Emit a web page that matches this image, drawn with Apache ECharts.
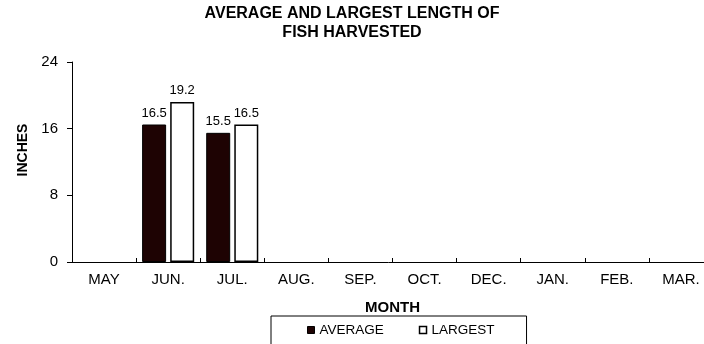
<!DOCTYPE html>
<html>
<head>
<meta charset="utf-8">
<title>Average and Largest Length of Fish Harvested</title>
<script src="https://cdn.jsdelivr.net/npm/echarts@6/dist/echarts.min.js"></script>
<style>
  html, body { margin: 0; padding: 0; background: #fff; }
  #chart { width: 704px; height: 344px; }
</style>
</head>
<body>
<div id="chart"></div>
<script>
// Months of the harvest season
const months = ['MAY', 'JUN.', 'JUL.', 'AUG.', 'SEP.', 'OCT.', 'DEC.', 'JAN.', 'FEB.', 'MAR.'];
// Lengths in inches (null = no fish recorded that month)
const averageLength = [null, 16.5, 15.5, null, null, null, null, null, null, null];
const largestLength = [null, 19.2, 16.5, null, null, null, null, null, null, null];
// Value axis range
const yMin = 0;
const yMax = 24;
const yStep = 8;

const FONT = "'Liberation Sans', Arial, Helvetica, sans-serif";

const chart = echarts.init(document.getElementById('chart'), null, { renderer: 'canvas' });

const barLabel = {
  show: true,
  position: 'top',
  distance: 5,
  color: '#000',
  fontFamily: FONT,
  fontSize: 13
};

chart.setOption({
  animation: false,
  backgroundColor: '#fff',
  title: {
    text: 'AVERAGE AND LARGEST LENGTH OF\nFISH HARVESTED',
    left: 352,
    textAlign: 'center',
    top: 4,
    padding: 0,
    textStyle: {
      fontFamily: FONT,
      fontSize: 16,
      fontWeight: 'bold',
      lineHeight: 19,
      color: '#000'
    }
  },
  legend: {
    left: 271,
    top: 316,
    padding: [7, 32, 20, 36],
    borderColor: '#000',
    borderWidth: 1,
    itemWidth: 7,
    itemHeight: 7,
    itemGap: 35,
    textStyle: { fontFamily: FONT, fontSize: 13.5, color: '#000' },
    data: [
      { name: 'AVERAGE', icon: 'rect', itemStyle: { color: '#1e0303', borderColor: '#000', borderWidth: 1 } },
      { name: 'LARGEST', icon: 'rect', itemStyle: { color: '#fff', borderColor: '#000', borderWidth: 1.5 } }
    ]
  },
  grid: {
    left: 72,
    top: 62,
    width: 641,
    height: 200,
    containLabel: false,
    outerBoundsMode: 'none'
  },
  xAxis: {
    type: 'category',
    data: months,
    name: 'MONTH',
    nameLocation: 'middle',
    nameGap: 38,
    nameTextStyle: { fontFamily: FONT, fontSize: 15, fontWeight: 'bold', color: '#000' },
    axisLine: { show: true, lineStyle: { color: '#000', width: 1 } },
    axisTick: { show: true, inside: true, length: 4, alignWithLabel: false, lineStyle: { color: '#000' } },
    axisLabel: { margin: 10, fontFamily: FONT, fontSize: 15, color: '#000', interval: 0 },
    splitLine: { show: false }
  },
  yAxis: {
    type: 'value',
    min: yMin,
    max: yMax,
    interval: yStep,
    name: 'INCHES',
    nameLocation: 'middle',
    nameGap: 41,
    nameRotate: 90,
    nameTextStyle: {
      fontFamily: FONT,
      fontSize: 14,
      fontWeight: 'bold',
      color: '#000',
      padding: [0, 0, 0, 24]
    },
    axisLine: { show: true, lineStyle: { color: '#000', width: 1 } },
    axisTick: { show: true, inside: false, length: 5, lineStyle: { color: '#000' } },
    axisLabel: { margin: 14, fontFamily: FONT, fontSize: 15, color: '#000' },
    splitLine: { show: false }
  },
  series: [
    {
      name: 'AVERAGE',
      type: 'bar',
      data: averageLength,
      barWidth: 24,
      barGap: '17%',
      itemStyle: { color: '#1e0303', borderColor: '#000', borderWidth: 1 },
      label: barLabel
    },
    {
      name: 'LARGEST',
      type: 'bar',
      data: largestLength,
      barWidth: 24,
      barGap: '17%',
      itemStyle: { color: '#fff', borderColor: '#000', borderWidth: 1.5 },
      label: barLabel
    }
  ]
});
</script>
</body>
</html>
